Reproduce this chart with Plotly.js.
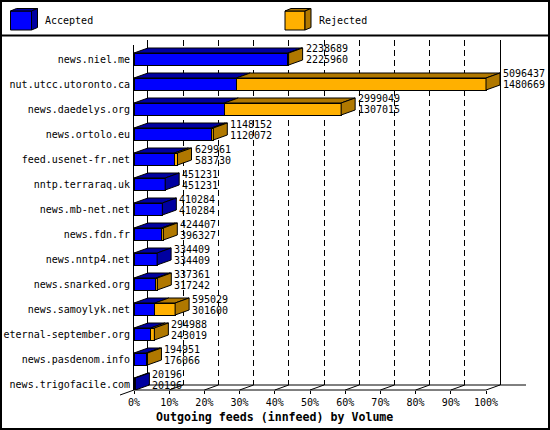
<!DOCTYPE html>
<html>
<head>
<meta charset="utf-8">
<script src="https://cdn.plot.ly/plotly-3.0.1.min.js"></script>
<style>
  body { margin: 0; padding: 0; background: #fff; }
  #wrap { position: relative; width: 550px; height: 430px; }
  #chart { position: absolute; left: 0; top: 0; width: 550px; height: 430px; }
  #frame { position: absolute; left: 0; top: 0; width: 550px; height: 430px; border: 2px solid #000; box-sizing: border-box; pointer-events: none; }
</style>
</head>
<body>
<div id="wrap"><div id="chart"></div><div id="frame"></div></div>
<script>
// ---- data ----
const categories = ["news.niel.me", "nut.utcc.utoronto.ca", "news.daedelys.org", "news.ortolo.eu",
  "feed.usenet-fr.net", "nntp.terraraq.uk", "news.mb-net.net", "news.fdn.fr", "news.nntp4.net",
  "news.snarked.org", "news.samoylyk.net", "eternal-september.org", "news.pasdenom.info", "news.trigofacile.com"];
const totals = [2238689, 5096437, 2999049, 1148152, 629961, 451231, 410284, 424407, 334409,
  337361, 595029, 294988, 194951, 20196];
const accepted = [2225960, 1480669, 1307015, 1120072, 583730, 451231, 410284, 396327, 334409,
  317242, 301600, 243019, 176066, 20196];
const seriesNames = ["Accepted", "Rejected"];
const pctTicks = [0, 10, 20, 30, 40, 50, 60, 70, 80, 90, 100];
const xTitle = "Outgoing feeds (innfeed) by Volume";

// ---- styling / layout constants (pixels) ----
const W = 550, H = 430;
const X0 = 134, P100 = 352, DX = 14, DY = 5;
const YTOP = 45, YBOT = 390, ROW = 25, ROW0 = 59, XEND = 545;
const BLUE = "#0000ff", BLUE_D = "#0000a0", ORANGE = "#ffb000", ORANGE_D = "#b07800";
const FONT = "DejaVu Sans Mono";

const rejected = totals.map((t, i) => t - accepted[i]);
const idx = categories.map((c, i) => i);
const maxTotal = Math.max(...totals);
const ux = maxTotal / P100;          // data units per pixel
const dx = DX * ux, dy = DY / ROW;   // depth in data units
const half = 6 / ROW;                // half bar thickness in category units
const px = v => v / W, py = v => 1 - v / H;

const traces = [
  { type: "scatter", x: [], y: [], xaxis: "x", yaxis: "y", hoverinfo: "skip", showlegend: false },
  { type: "bar", orientation: "h", name: seriesNames[0], x: accepted, y: idx, xaxis: "x2", yaxis: "y2",
    width: 2 * half, marker: { color: BLUE, line: { color: "#000", width: 1 } }, hoverinfo: "skip" },
  { type: "bar", orientation: "h", name: seriesNames[1], x: rejected, y: idx, xaxis: "x2", yaxis: "y2",
    base: accepted, width: 2 * half, marker: { color: ORANGE, line: { color: "#000", width: 1 } }, hoverinfo: "skip" }
];

const shapes = [];
const annotations = [];
function poly(pts) { return "M" + pts.map(p => p[0] + "," + p[1]).join(" L") + " Z"; }

// 3D faces of bars (data coordinates)
idx.forEach(i => {
  const a = accepted[i], t = totals[i], r = rejected[i];
  const yt = i - half, yb = i + half;
  const base = { type: "path", xref: "x2", yref: "y2", layer: "above", line: { color: "#000", width: 1 } };
  shapes.push(Object.assign({}, base, { path: poly([[0, yt], [a, yt], [a + dx, yt - dy], [dx, yt - dy]]), fillcolor: BLUE_D }));
  if (r > 0) {
    shapes.push(Object.assign({}, base, { path: poly([[a, yt], [t, yt], [t + dx, yt - dy], [a + dx, yt - dy]]), fillcolor: ORANGE_D }));
  }
  shapes.push(Object.assign({}, base, { path: poly([[t, yt], [t, yb], [t + dx, yb - dy], [t + dx, yt - dy]]), fillcolor: r > 0 ? ORANGE_D : BLUE_D }));
  annotations.push({ x: t, y: i, xref: "x2", yref: "y2", text: String(t), showarrow: false,
    xanchor: "left", yanchor: "middle", xshift: DX + 1, yshift: 10, font: { family: FONT, size: 10, color: "#000" } });
  annotations.push({ x: t, y: i, xref: "x2", yref: "y2", text: String(accepted[i]), showarrow: false,
    xanchor: "left", yanchor: "middle", xshift: DX + 1, yshift: -1, font: { family: FONT, size: 10, color: "#000" } });
});

// frame decorations
function pline(x0, y0, x1, y1, w) {
  shapes.push({ type: "line", xref: "paper", yref: "paper", x0: px(x0), y0: py(y0), x1: px(x1), y1: py(y1),
    line: { color: "#000", width: w || 1 }, layer: "above" });
}
pline(0, 35.5, W, 35.5, 2);                 // legend separator
pline(X0 + DX, YBOT - DY, 526, YBOT - DY);  // back floor
pline(X0, YBOT, X0 + P100, YBOT);           // front floor
pline(120, YBOT + 5, X0, YBOT);             // left diagonal
pline(X0 + P100, YBOT, X0 + P100 + DX, YBOT - DY); // right diagonal
pctTicks.slice(1, -1).forEach(p => {
  const v = p / 100 * maxTotal;
  shapes.push({ type: "line", xref: "x2", yref: "paper", x0: v, x1: v + dx, y0: py(YBOT), y1: py(YBOT - DY),
    line: { color: "#000", width: 1 }, layer: "below" });
});

// legend (3D boxes)
function legendBox(x, y0, y1, w, front, side) {
  const d = 6, u = 2.5;
  const P = pts => "M" + pts.map(q => px(q[0]) + "," + py(q[1])).join(" L") + " Z";
  const st = { type: "path", xref: "paper", yref: "paper", line: { color: "#000", width: 1 }, layer: "above" };
  shapes.push(Object.assign({}, st, { path: P([[x, y0], [x + w, y0], [x + w, y1], [x, y1]]), fillcolor: front }));
  shapes.push(Object.assign({}, st, { path: P([[x, y0], [x + w, y0], [x + w + d, y0 - u], [x + d, y0 - u]]), fillcolor: side }));
  shapes.push(Object.assign({}, st, { path: P([[x + w, y0], [x + w, y1], [x + w + d, y1 - u], [x + w + d, y0 - u]]), fillcolor: side }));
}
legendBox(10.5, 11, 30, 21, BLUE, BLUE_D);
legendBox(285, 11, 30, 20, ORANGE, ORANGE_D);
annotations.push({ x: px(42.5), y: py(20.5), xref: "paper", yref: "paper", text: seriesNames[0], showarrow: false,
  xanchor: "left", yanchor: "middle", font: { family: FONT, size: 10, color: "#000" } });
annotations.push({ x: px(317), y: py(20.5), xref: "paper", yref: "paper", text: seriesNames[1], showarrow: false,
  xanchor: "left", yanchor: "middle", font: { family: FONT, size: 10, color: "#000" } });

// axis title
annotations.push({ x: px(274.5), y: py(417), xref: "paper", yref: "paper", text: xTitle, showarrow: false,
  xanchor: "center", yanchor: "middle", font: { family: FONT, size: 11.6, color: "#000", weight: "bold" } });

const layout = {
  width: W, height: H,
  margin: { l: 0, r: 0, t: 0, b: 0, pad: 0 },
  paper_bgcolor: "#fff", plot_bgcolor: "rgba(0,0,0,0)",
  showlegend: false, barmode: "stack", hovermode: false,
  font: { family: FONT, size: 10, color: "#000" },
  // back plane
  xaxis: { domain: [px(X0 + DX), px(X0 + P100 + DX)], range: [0, maxTotal], anchor: "y",
    tickvals: pctTicks.slice(1, -1).map(p => p / 100 * maxTotal), showticklabels: false, ticks: "",
    showgrid: true, gridcolor: "#000", gridwidth: 1, griddash: "6px,4px", zeroline: false, showline: false, fixedrange: true },
  yaxis: { domain: [py(YBOT - DY), py(YTOP - DY)], range: [0, 1], anchor: "x",
    showgrid: false, zeroline: false, showticklabels: false, ticks: "",
    showline: true, mirror: true, linecolor: "#000", linewidth: 1, fixedrange: true },
  // front plane (bars)
  xaxis2: { domain: [px(X0), px(XEND)], range: [0, maxTotal * (XEND - X0) / P100], anchor: "y2",
    tickvals: pctTicks.map(p => p / 100 * maxTotal), ticktext: pctTicks.map(p => p + "%"),
    ticks: "outside", ticklen: 3, tickcolor: "#000", tickwidth: 1,
    showgrid: false, zeroline: false, showline: false,
    tickfont: { family: FONT, size: 10, color: "#000" }, fixedrange: true },
  yaxis2: { domain: [py(YBOT), py(YTOP)], range: [(YBOT - ROW0) / ROW, (YTOP - ROW0) / ROW], anchor: "x2",
    tickvals: idx, ticktext: categories, ticks: "", showgrid: false, zeroline: false,
    showline: true, linecolor: "#000", linewidth: 1, ticklabelstandoff: 1,
    tickfont: { family: FONT, size: 10, color: "#000" }, fixedrange: true },
  shapes: shapes,
  annotations: annotations
};

Plotly.newPlot("chart", traces, layout, { displayModeBar: false, staticPlot: true });
</script>
</body>
</html>
